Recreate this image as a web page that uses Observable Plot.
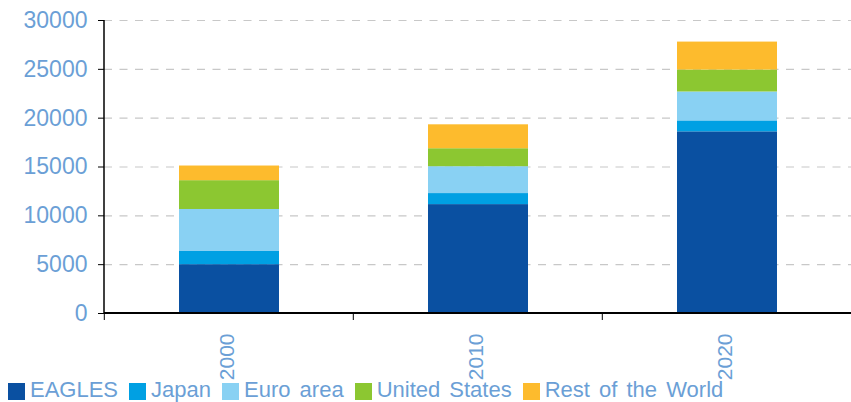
<!DOCTYPE html>
<html>
<head>
<meta charset="utf-8">
<script src="https://cdn.jsdelivr.net/npm/d3@7"></script>
<script src="https://cdn.jsdelivr.net/npm/@observablehq/plot@0.6"></script>
<style>
  body { margin: 0; background: #fff; font-family: "Liberation Sans", Arial, sans-serif; }
  #wrap { position: relative; width: 851px; height: 402px; overflow: hidden; }
  #legend { position: absolute; left: 8px; top: 377px; display: flex; align-items: center;
            font-size: 22px; line-height: 25px; color: #6b9fd6; word-spacing: 3px; white-space: nowrap; }
  #legend .item { display: flex; align-items: center; margin-right: 11px; }
  #legend .sw { width: 17px; height: 17px; margin-right: 5px; position: relative; top: 2px; }
</style>
</head>
<body>
<div id="wrap">
  <div id="chart"></div>
  <div id="legend"></div>
</div>
<script>
const years = ["2000", "2010", "2020"];
const series = ["EAGLES", "Japan", "Euro area", "United States", "Rest of the World"];
const colors = ["#0a50a1", "#00a0e3", "#89d1f3", "#8cc731", "#fdbb2d"];
const eagles = [5000, 11150, 18600];
const japan = [1350, 1130, 1120];
const euroArea = [4300, 2750, 2960];
const unitedStates = [2950, 1840, 2250];
const restOfWorld = [1500, 2450, 2860];
const yTicks = [0, 5000, 10000, 15000, 20000, 25000, 30000];

const seriesValues = [eagles, japan, euroArea, unitedStates, restOfWorld];
const rows = [];
series.forEach((s, i) => years.forEach((yr, j) => rows.push({series: s, year: yr, value: seriesValues[i][j]})));

const textColor = "#6b9fd6";
const padInner = 0.6, padOuter = 0.3;

function axisLines(index, scales, values, dims) {
  const g = d3.create("svg:g").attr("stroke", "black").attr("stroke-width", 1.5);
  const x0 = dims.marginLeft, x1 = dims.width - dims.marginRight;
  const yBottom = scales.y(0), yTop = scales.y(yTicks[yTicks.length - 1]);
  g.append("line").attr("x1", x0).attr("x2", x0).attr("y1", yTop).attr("y2", yBottom + 1);
  g.append("line").attr("x1", x0).attr("x2", x1).attr("y1", yBottom).attr("y2", yBottom).attr("stroke-width", 2);
  const step = scales.x(years[1]) - scales.x(years[0]);
  years.forEach(yr => {
    const bx = scales.x(yr) - step * padInner / 2;
    g.append("line").attr("x1", bx).attr("x2", bx).attr("y1", yBottom).attr("y2", yBottom + 7).attr("stroke-width", 1);
  });
  return g.node();
}

const plot = Plot.plot({
  width: 851,
  height: 402,
  marginLeft: 104,
  marginRight: 0,
  marginTop: 20,
  marginBottom: 89,
  style: {fontFamily: "'Liberation Sans', Arial, sans-serif", overflow: "visible", background: "transparent"},
  x: {domain: years, paddingInner: padInner, paddingOuter: padOuter, label: null, axis: null},
  y: {domain: [0, 30000], label: null},
  color: {domain: series, range: colors},
  marks: [
    Plot.gridY(yTicks.filter(v => v > 0), {stroke: "#c8c8c8", strokeOpacity: 1, strokeDasharray: "8,7.5", strokeWidth: 1.2}),
    Plot.barY(rows, {x: "year", y: "value", fill: "series"}),
    Plot.axisY(yTicks, {tickSize: 6, tickPadding: 11, fontSize: 23, fill: textColor, stroke: "black", label: null, tickFormat: d => String(d)}),
    Plot.text(years, {x: d => d, y: () => 0, text: d => d, rotate: -90, textAnchor: "end", lineAnchor: "middle",
                      dy: 20, dx: -2, fontSize: 21, fill: textColor}),
    axisLines
  ]
});
plot.style.position = "absolute";
plot.style.left = "0px";
plot.style.top = "0px";
document.getElementById("chart").appendChild(plot);

const legend = d3.select("#legend");
series.forEach((s, i) => {
  const it = legend.append("div").attr("class", "item");
  it.append("div").attr("class", "sw").style("background", colors[i]);
  it.append("span").text(s);
});
</script>
</body>
</html>
